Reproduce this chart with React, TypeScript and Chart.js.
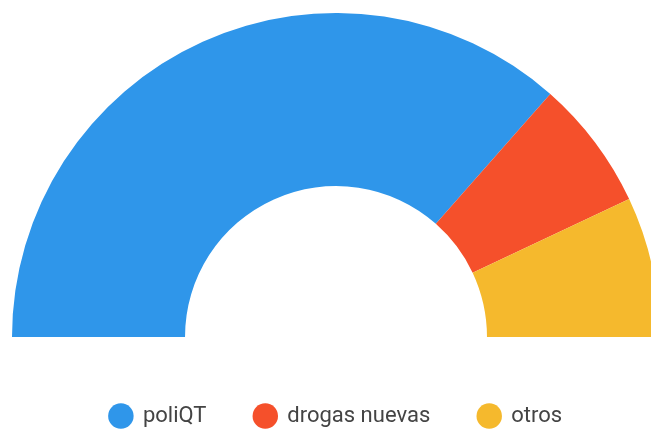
import React, { useEffect, useRef } from "react";
import { Chart, registerables } from "chart.js";

Chart.register(...registerables);

const categories = ["poliQT", "drogas nuevas", "otros"];
const values = [73, 13, 14];
const colors = ["#2F96EA", "#F5502B", "#F5B92D"];

export default function App() {
  const ref = useRef<HTMLCanvasElement | null>(null);

  useEffect(() => {
    if (!ref.current) return;
    const chart = new Chart(ref.current, {
      type: "doughnut",
      data: {
        labels: categories,
        datasets: [
          {
            data: values,
            backgroundColor: colors,
            borderWidth: 0,
            hoverOffset: 0,
          },
        ],
      },
      options: {
        responsive: false,
        animation: false,
        rotation: -90,
        circumference: 180,
        cutout: "46.6%",
        layout: { padding: { top: 5, bottom: 0, left: 0, right: 0 } },
        plugins: {
          tooltip: { enabled: false },
          legend: {
            position: "bottom",
            title: {
              display: true,
              text: "",
              padding: { top: 0, bottom: 0 },
              font: { size: 20, lineHeight: 1 },
            },
            labels: {
              usePointStyle: true,
              pointStyle: "circle",
              boxWidth: 22,
              boxHeight: 18,
              padding: 48,
              color: "#444444",
              font: { family: "Roboto", size: 22 },
            },
          },
        },
      },
    });
    return () => chart.destroy();
  }, []);

  return (
    <div
      style={{
        position: "absolute",
        left: 8,
        top: 8,
        width: 643,
        height: 421,
        overflow: "hidden",
      }}
    >
      <canvas
        ref={ref}
        width={656}
        height={429}
        style={{ width: 656, height: 429, display: "block" }}
      />
    </div>
  );
}
